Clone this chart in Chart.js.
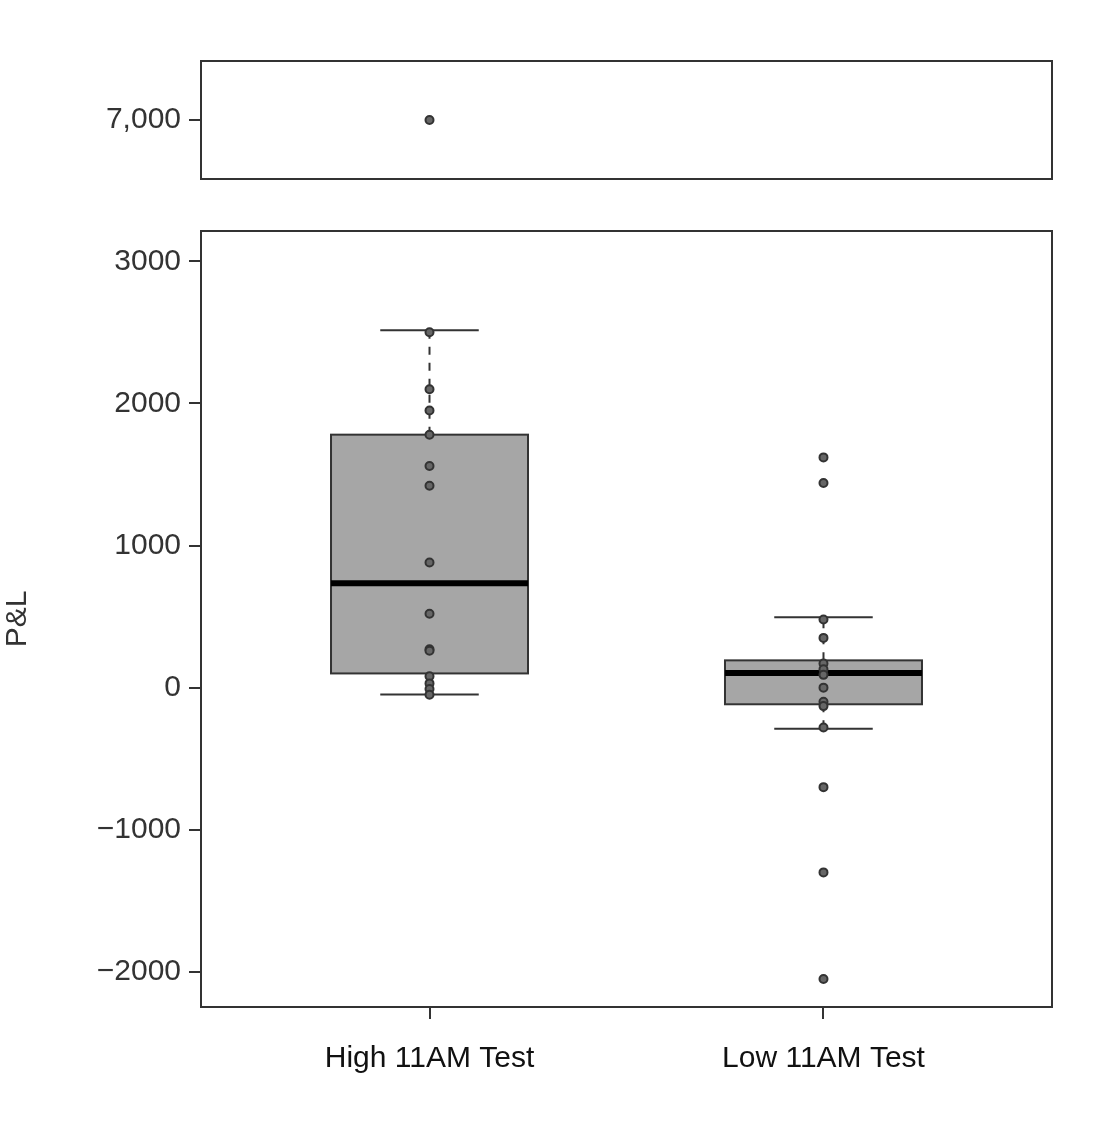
<!DOCTYPE html>
<html>
<head>
<meta charset="utf-8">
<script src="https://cdn.jsdelivr.net/npm/chart.js@4"></script>
<style>
  body { margin: 0; background: #fff; }
  #wrapTop { position: absolute; left: 0; top: 0; width: 1096px; height: 205px; }
  #wrapMain { position: absolute; left: 0; top: 205px; width: 1096px; height: 915px; }
</style>
</head>
<body>
<div id="wrapTop"><canvas id="top"></canvas></div>
<div id="wrapMain"><canvas id="main"></canvas></div>
<script>
var categories = ['High 11AM Test', 'Low 11AM Test'];
var pointsHigh = [2500, 2100, 1950, 1780, 1560, 1420, 880, 520, 270, 260, 80, 30, -10, -50];
var pointsLow = [1620, 1440, 480, 350, 170, 130, 90, 0, -100, -130, -280, -700, -1300, -2050];
var outlierHigh = [7000];
// [lower whisker, q1, median, q3, upper whisker]
var boxHigh = [-48, 100, 735, 1780, 2515];
var boxLow = [-289, -117, 103, 192, 495];
var mainTicks = [-2000, -1000, 0, 1000, 2000, 3000];
var topTicks = [7000];

var font = { family: 'Liberation Sans, Arial', size: 30 };
var ink = '#333';

function pts(arr, x) { return arr.map(function (v) { return { x: x, y: v }; }); }

var frame = {
    id: 'frame',
    afterDraw: function (chart) {
        var a = chart.chartArea, c = chart.ctx;
        c.save(); c.strokeStyle = ink; c.lineWidth = 2;
        c.strokeRect(a.left, a.top, a.right - a.left, a.bottom - a.top);
        c.restore();
    }
};

var boxes = {
    id: 'boxes',
    beforeDatasetsDraw: function (chart) {
        var c = chart.ctx, xs = chart.scales.x, ys = chart.scales.y;
        [boxHigh, boxLow].forEach(function (b, i) {
            var x = i + 1;
            var l = xs.getPixelForValue(x - 0.25), r = xs.getPixelForValue(x + 0.25);
            var cl = xs.getPixelForValue(x - 0.125), cr = xs.getPixelForValue(x + 0.125);
            var xm = xs.getPixelForValue(x);
            var p = b.map(function (v) { return ys.getPixelForValue(v); });
            c.save();
            c.strokeStyle = ink; c.lineWidth = 2;
            c.setLineDash([8, 8]);
            c.beginPath();
            c.moveTo(xm, p[3]); c.lineTo(xm, p[4]);
            c.moveTo(xm, p[1]); c.lineTo(xm, p[0]);
            c.stroke();
            c.setLineDash([]);
            c.beginPath();
            c.moveTo(cl, p[4]); c.lineTo(cr, p[4]);
            c.moveTo(cl, p[0]); c.lineTo(cr, p[0]);
            c.stroke();
            c.fillStyle = '#a6a6a6';
            c.fillRect(l, p[3], r - l, p[1] - p[3]);
            c.strokeRect(l, p[3], r - l, p[1] - p[3]);
            c.lineWidth = 6; c.strokeStyle = '#000';
            c.beginPath(); c.moveTo(l, p[2]); c.lineTo(r, p[2]); c.stroke();
            c.restore();
        });
    }
};

var pointStyle = {
    type: 'scatter', pointRadius: 4, borderWidth: 2,
    borderColor: '#333', backgroundColor: '#666'
};

new Chart(document.getElementById('top'), {
    type: 'scatter',
    data: { datasets: [Object.assign({ data: pts(outlierHigh, 1) }, pointStyle)] },
    options: {
        responsive: true, maintainAspectRatio: false, animation: false,
        layout: { padding: { top: 61, right: 44, bottom: 8, left: 0 } },
        plugins: { legend: { display: false }, tooltip: { enabled: false } },
        scales: {
            x: { type: 'linear', min: 0.42, max: 2.58, display: false },
            y: {
                min: 6530, max: 7470,
                afterBuildTicks: function (s) { s.ticks = topTicks.map(function (v) { return { value: v }; }); },
                afterFit: function (s) { s.width = 201; },
                ticks: { font: font, color: ink, padding: 8 },
                grid: { drawOnChartArea: false, tickLength: 12, color: ink, lineWidth: 2 },
                border: { display: false }
            }
        }
    },
    plugins: [frame]
});

new Chart(document.getElementById('main'), {
    type: 'scatter',
    data: {
        datasets: [
            Object.assign({ data: pts(pointsHigh, 1) }, pointStyle),
            Object.assign({ data: pts(pointsLow, 2) }, pointStyle)
        ]
    },
    options: {
        responsive: true, maintainAspectRatio: false, animation: false,
        layout: { padding: { top: 7, right: 44, bottom: 0, left: 0 } },
        plugins: { legend: { display: false }, tooltip: { enabled: false } },
        scales: {
            x: {
                type: 'linear', min: 0.42, max: 2.58,
                afterBuildTicks: function (s) { s.ticks = [{ value: 1 }, { value: 2 }]; },
                afterFit: function (s) { s.height = 113; },
                ticks: {
                    font: font, color: '#111', padding: 22, maxRotation: 0,
                    callback: function (v) { return categories[v - 1]; }
                },
                grid: { drawOnChartArea: false, tickLength: 12, color: ink, lineWidth: 2 },
                border: { display: false }
            },
            y: {
                min: -2247, max: 3213,
                afterBuildTicks: function (s) { s.ticks = mainTicks.map(function (v) { return { value: v }; }); },
                afterFit: function (s) { s.width = 201; },
                title: { display: true, text: 'P&L', font: font, color: ink, padding: 0 },
                ticks: {
                    font: font, color: ink, padding: 8,
                    callback: function (v) { return String(v).replace('-', '\u2212'); }
                },
                grid: { drawOnChartArea: false, tickLength: 12, color: ink, lineWidth: 2 },
                border: { display: false }
            }
        }
    },
    plugins: [frame, boxes]
});
</script>
</body>
</html>
